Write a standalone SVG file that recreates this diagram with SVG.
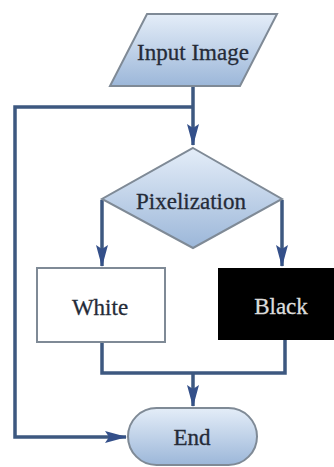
<svg xmlns="http://www.w3.org/2000/svg" width="334" height="467" viewBox="0 0 334 467">
<defs>
<linearGradient id="g" x1="0" y1="0" x2="0" y2="1">
<stop offset="0" stop-color="#e4edf8"/>
<stop offset="1" stop-color="#9cb7d9"/>
</linearGradient>
<marker id="ah" markerWidth="22" markerHeight="12" refX="21" refY="6" orient="auto" markerUnits="userSpaceOnUse">
<path d="M0,0 L22,6 L0,12 L4,6 Z" fill="#34508a"/>
</marker>
<style>
.shape{fill:url(#g);stroke:#7f8a96;stroke-width:2}
.conn{fill:none;stroke:#3d5880;stroke-width:3.5}
.lbl{font-family:"Liberation Serif",serif;font-size:23px;fill:#252b38;stroke:#252b38;stroke-width:0.3;text-anchor:middle}
</style>
</defs>
<rect width="334" height="467" fill="#ffffff"/>
<g id="connectors">
<path class="conn" d="M193,86 V145" marker-end="url(#ah)"/>
<path class="conn" d="M193,107 H15 V437 H126" marker-end="url(#ah)"/>
<path class="conn" d="M102,200 V266" marker-end="url(#ah)"/>
<path class="conn" d="M282,200 V266" marker-end="url(#ah)"/>
<path class="conn" d="M102,342 V373 H285 V340"/>
<path class="conn" d="M193,373 V406" marker-end="url(#ah)"/>
</g>
<g id="input">
<polygon class="shape" points="147,14 277,14 240,86 110,86"/>
<text class="lbl" x="193" y="60">Input Image</text>
</g>
<g id="pixelization">
<polygon class="shape" points="193,148 282,199 193,248 102,199"/>
<text class="lbl" x="191" y="209">Pixelization</text>
</g>
<g id="white">
<rect x="37" y="268" width="128" height="74" fill="#ffffff" stroke="#7f8a96" stroke-width="2"/>
<text class="lbl" x="100" y="315">White</text>
</g>
<g id="black">
<rect x="218" y="268" width="118" height="72" fill="#000000"/>
<text class="lbl" x="281" y="314" style="fill:#dcdcdc;stroke:#dcdcdc">Black</text>
</g>
<g id="end">
<rect class="shape" x="128" y="408" width="129" height="57" rx="28.5" ry="28.5"/>
<text class="lbl" x="192" y="445">End</text>
</g>
</svg>
